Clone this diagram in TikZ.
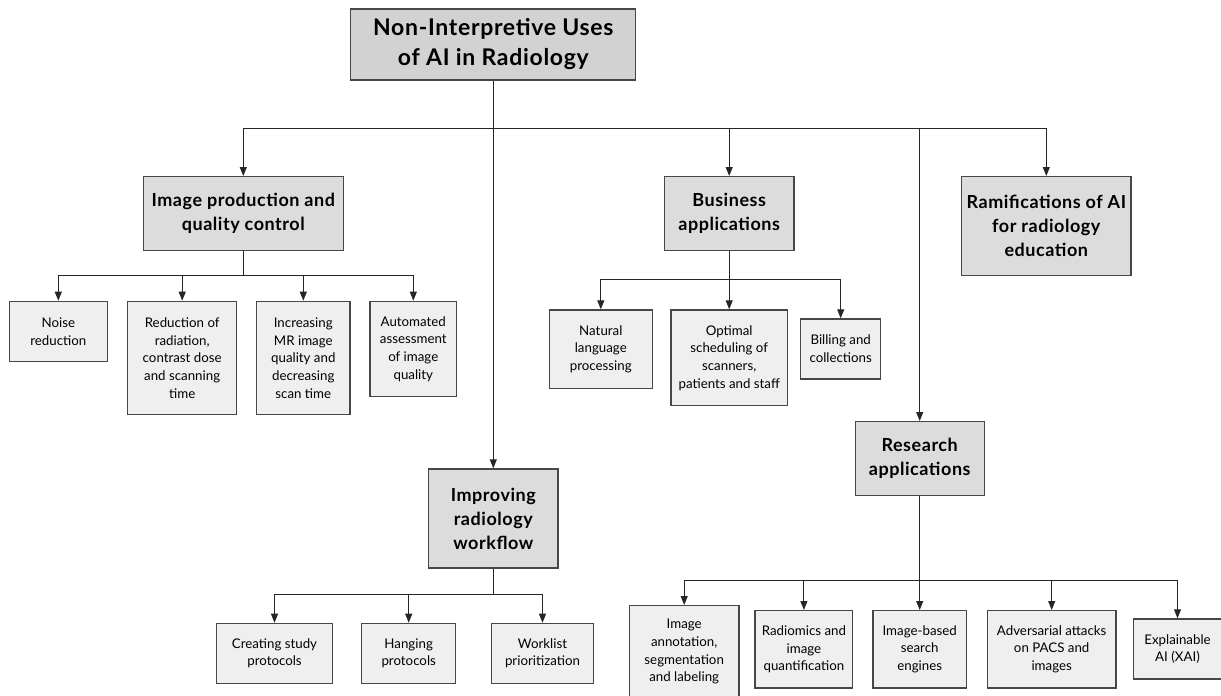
\documentclass[tikz,border=0pt]{standalone}
\usepackage{fontspec}
\setmainfont{Lato}
\usetikzlibrary{arrows.meta}
\definecolor{rootgray}{HTML}{D2D2D2}
\definecolor{headgray}{HTML}{DCDCDC}
\definecolor{leafgray}{HTML}{EFEFEF}

\begin{document}
\begin{tikzpicture}[x=1pt,y=-1pt,
	box/.style={draw=black!72, line width=1.3pt, inner sep=0pt, align=center, anchor=north},
	rootbox/.style={box, fill=rootgray, font=\fontsize{23}{30}\selectfont\bfseries\addfontfeatures{LetterSpace=3}},
	headbox/.style={box, fill=headgray, font=\fontsize{18}{24}\selectfont\bfseries\addfontfeatures{LetterSpace=3}},
	leafbox/.style={box, fill=leafgray, font=\fontsize{13.3}{17.7}\selectfont},
	link/.style={draw=black!85, line width=1pt, -{Triangle[length=9pt,width=7pt]}}]
				\useasboundingbox (0,0) rectangle (1221,696);
				
				\node[rootbox, minimum width=285pt, minimum height=71pt] (root) at (493.3,8.3) {Non-Interpretive Uses\\of AI in Radiology};
				
				\node[headbox, minimum width=200pt, minimum height=74pt] (img) at (243.3,176) {Image production and\\quality control};
				\node[headbox, minimum width=129.6pt, minimum height=99pt] (work) at (493.3,468.3) {Improving\\radiology\\workflow};
				\node[headbox, minimum width=129.7pt, minimum height=74pt] (biz) at (729.2,176) {Business\\applications};
				\node[headbox, minimum width=129pt, minimum height=74pt] (res) at (919.7,421) {Research\\applications};
				\node[headbox, minimum width=169.3pt, minimum height=99pt] (ram) at (1046.3,176) {Ramifications of AI\\for radiology\\education};
				
				\node[leafbox, minimum width=98pt, minimum height=60pt] (noise) at (58.3,300.7) {Noise\\reduction};
				\node[leafbox, minimum width=109pt, minimum height=113.3pt] (red) at (182.2,300.7) {Reduction of\\radiation,\\contrast dose\\and scanning\\time};
				\node[leafbox, minimum width=93.3pt, minimum height=113.3pt] (incr) at (303.3,300.7) {Increasing\\MR image\\quality and\\decreasing\\scan time};
				\node[leafbox, minimum width=86.7pt, minimum height=95.3pt] (auto) at (413.3,300.7) {Automated\\assessment\\of image\\quality};
				
				\node[leafbox, minimum width=103pt, minimum height=78.4pt] (nlp) at (600.8,309.3) {Natural\\language\\processing};
				\node[leafbox, minimum width=116.3pt, minimum height=95.7pt] (sched) at (729.2,309.3) {Optimal\\scheduling of\\scanners,\\patients and staff};
				\node[leafbox, minimum width=80pt, minimum height=60pt] (bill) at (840.7,318.3) {Billing and\\collections};
				
				\node[leafbox, minimum width=115.6pt, minimum height=60pt] (proto) at (274.5,622.7) {Creating study\\protocols};
				\node[leafbox, minimum width=94pt, minimum height=60pt] (hang) at (408.7,622.7) {Hanging\\protocols};
				\node[leafbox, minimum width=101.6pt, minimum height=60pt] (worklist) at (542.5,622.7) {Worklist\\prioritization};
				
				\node[leafbox, minimum width=109.7pt, minimum height=92pt] (annot) at (684.2,605) {Image\\annotation,\\segmentation\\and labeling};
				\node[leafbox, minimum width=97.7pt, minimum height=77.3pt] (radiom) at (803.9,610) {Radiomics and\\image\\quantification};
				\node[leafbox, minimum width=93.4pt, minimum height=77.3pt] (search) at (919.7,610) {Image-based\\search\\engines};
				\node[leafbox, minimum width=128.7pt, minimum height=77.3pt] (attack) at (1051.7,610) {Adversarial attacks\\on PACS and\\images};
				\node[leafbox, minimum width=88pt, minimum height=60pt] (xai) at (1177.5,618.3) {Explainable\\AI (XAI)};
				
				% buses
				\coordinate (topbus) at (493.3,128.3);
				\coordinate (imgbus) at (243.3,275.3);
				\coordinate (bizbus) at (729.2,279.3);
				\coordinate (workbus) at (493.3,594.3);
				\coordinate (resbus) at (919.7,580.7);
				
				\draw[link] (root.south) -- (work.north);
				\foreach \n in {img,biz,res,ram}
					\draw[link] (topbus) -| (\n.north);
				
				\foreach \n in {noise,red,incr,auto}
					\draw[link] (img.south) -- (imgbus) -| (\n.north);
				\foreach \n in {nlp,sched,bill}
					\draw[link] (biz.south) -- (bizbus) -| (\n.north);
				\foreach \n in {proto,hang,worklist}
					\draw[link] (work.south) -- (workbus) -| (\n.north);
				\foreach \n in {annot,radiom,search,attack,xai}
					\draw[link] (res.south) -- (resbus) -| (\n.north);
			\end{tikzpicture}
\end{document}
